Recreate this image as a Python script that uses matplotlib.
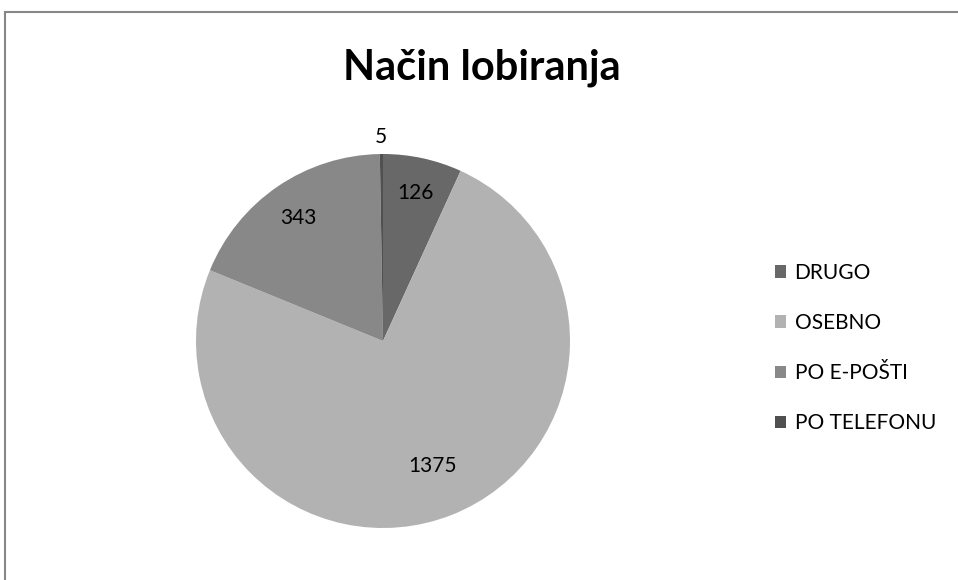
import numpy as np
import matplotlib.pyplot as plt
from matplotlib.patches import Rectangle

# data
categories = ['DRUGO', 'OSEBNO', 'PO E-POŠTI', 'PO TELEFONU']
values = [126, 1375, 343, 5]
title = 'Način lobiranja'

# style
colors = ['#686868', '#b2b2b2', '#888888', '#505050']
label_r = [0.81, 0.72, 0.80, 1.09]

plt.rcParams['font.family'] = ['Lato', 'DejaVu Sans']

fig = plt.figure(figsize=(9.58, 5.80), dpi=100)

# frame (top/left edges visible only)
fig.add_artist(Rectangle((5 / 958, -0.1), 1.2, 1.1 - 12 / 580 + 0.0,
                         transform=fig.transFigure, fill=False,
                         edgecolor='#878787', linewidth=1.5))

ax = fig.add_axes([196 / 958, 52 / 580, 374 / 958, 374 / 580])
wedges, _ = ax.pie(values, colors=colors, startangle=90, counterclock=False,
                   radius=1.0, wedgeprops=dict(linewidth=0))
ax.set_xlim(-1, 1)
ax.set_ylim(-1, 1)
ax.set_aspect('equal')

for w, v, r in zip(wedges, values, label_r):
    ang = np.deg2rad((w.theta1 + w.theta2) / 2)
    ax.text(r * np.cos(ang), r * np.sin(ang), str(v), ha='center', va='center',
            fontsize=15, color='black')

fig.text(482 / 958, 1 - 68 / 580, title, ha='center', va='center',
         fontsize=30, fontweight='bold')

handles = [Rectangle((0, 0), 1, 1, facecolor=c) for c in colors]
leg = fig.legend(handles, categories, loc='upper left',
                 bbox_to_anchor=(756 / 958, 1 - 244 / 580), frameon=False,
                 fontsize=15, handlelength=0.55, handleheight=0.55,
                 handletextpad=0.4, labelspacing=1.45)

fig.savefig('out.png', dpi=100)
